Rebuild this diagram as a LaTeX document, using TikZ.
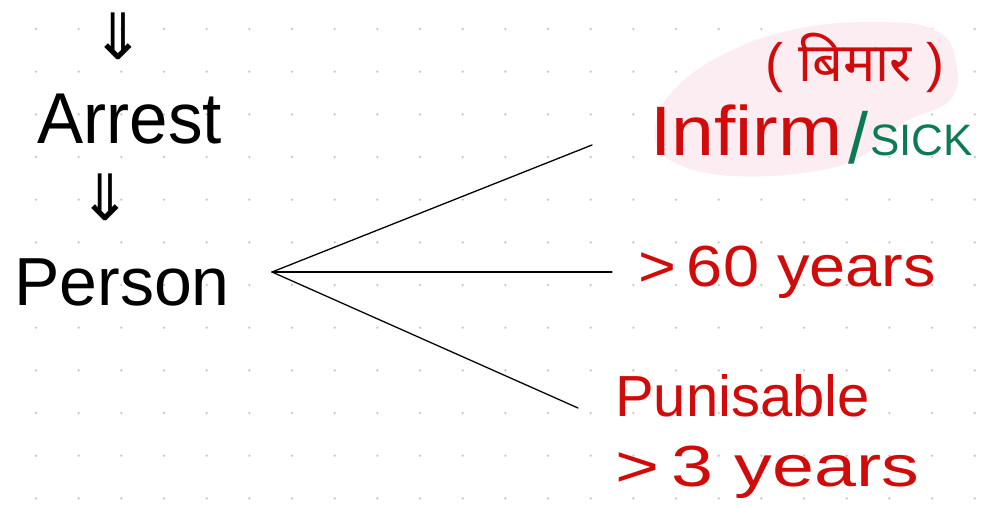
\documentclass[tikz,border=0pt]{standalone}
\usepackage{fontspec}
\setmainfont{Liberation Sans}
\newfontfamily\devfont[Script=Devanagari]{Noto Sans}
\newfontfamily\symfont{DejaVu Sans}
\definecolor{inkred}{HTML}{D10A0A}
\definecolor{inkgreen}{HTML}{0B7A55}
\definecolor{hlpink}{HTML}{FCEDF3}
\definecolor{dotgray}{HTML}{C8C8C8}
\begin{document}
\begin{tikzpicture}[x=1pt,y=-1pt,
  ink/.style={inner sep=0pt,anchor=base},
  blacktxt/.style={ink,text=black},
  redtxt/.style={ink,text=inkred},
  greentxt/.style={ink,text=inkgreen},
  branch/.style={draw=black,line width=1.3pt,line cap=round}]
\useasboundingbox (0,0) rectangle (983,508);
\fill[white] (0,0) rectangle (983,508);
% dot grid
\foreach \i in {0,...,22}{
  \foreach \j in {0,...,11}{
    \fill[dotgray] ({36+42.67*\i},{29+42.67*\j}) circle (1.3pt);
  }
}
% pink highlight
\fill[hlpink] plot[smooth cycle,tension=0.7] coordinates {
  (655,130) (672,92) (722,55) (792,30) (872,22) (935,30) (956,62) (950,100)
  (905,122) (872,150) (822,170) (732,176) (670,160)};
% left column
\node[ink,text=black,font=\symfont\fontsize{64}{64}\selectfont] (arr1) at (118,60) {⇓};
\node[blacktxt,font=\fontsize{72}{72}\selectfont,xscale=0.96,transform shape] (arrest) at (130,144) {Arrest};
\node[ink,text=black,font=\symfont\fontsize{64}{64}\selectfont] (arr2) at (105,220) {⇓};
\node[blacktxt,font=\fontsize{68}{68}\selectfont] (person) at (122,305) {Person};
% branches
\coordinate (hub) at (272,272);
\coordinate (e1) at (592,145);
\coordinate (e2) at (612,272);
\coordinate (e3) at (578,408);
\draw[branch] (hub) -- (e1);
\draw[branch] (hub) -- (e2);
\draw[branch] (hub) -- (e3);
% right column
\node[redtxt,font=\fontsize{54}{54}\selectfont] (hindi) at (855,82) {(\;{\devfont बिमार}\;)};
\node[redtxt,font=\fontsize{70}{70}\selectfont,anchor=base west,xscale=1.1,transform shape] (infirm) at (650,156) {Infirm};
\node[greentxt,font=\fontsize{72}{72}\selectfont,anchor=base west] (slash) at (848,164) {/};
\node[greentxt,font=\fontsize{44}{44}\selectfont,anchor=base west] (sick) at (870,156) {SICK};
\node[redtxt,font=\fontsize{58}{58}\selectfont,anchor=base west,xscale=1.12,transform shape] (sixty) at (638,286) {>\,60 years};
\node[redtxt,font=\fontsize{58}{58}\selectfont,anchor=base west] (punish) at (615,416) {Punisable};
\node[redtxt,font=\fontsize{58}{58}\selectfont,anchor=base west,xscale=1.3,transform shape] (three) at (615,486) {>\,3 years};
\end{tikzpicture}
\end{document}
